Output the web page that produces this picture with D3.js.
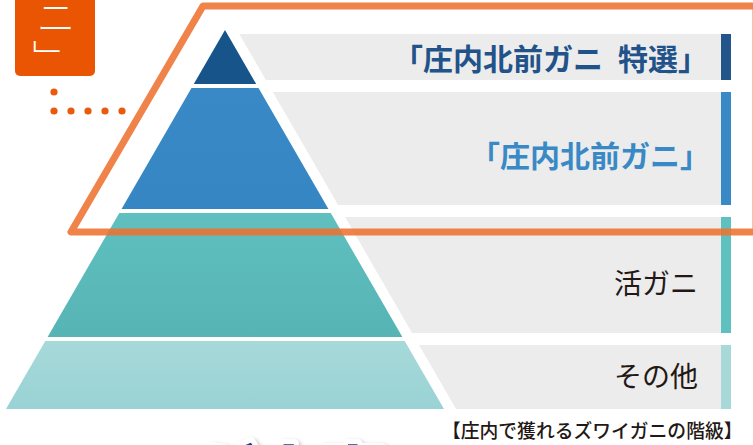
<!DOCTYPE html>
<html><head><meta charset="utf-8">
<script src="https://cdn.jsdelivr.net/npm/d3@7/dist/d3.min.js"></script>
<style>
html,body{margin:0;padding:0;background:#fff;}
svg{display:block;font-family:"Noto Sans CJK JP","Noto Sans",sans-serif;}
</style></head>
<body>
<svg id="chart" width="753" height="445"></svg>
<script>
// ---- data ----
const tierNames = ["「庄内北前ガニ\u2002特選」", "「庄内北前ガニ」", "活ガニ", "その他"];
const tierHeights = [54, 121, 124, 68];           // relative tier thickness
const tierColors = ["#17548a", "#3889c5", "#5fc0bf", "#a7d9d9"];
const tierColorsBottom = ["#17548a", "#3586c3", "#57b4b4", "#99d2d5"];
const barColors = ["#22568a", "#3889c6", "#5fc1bf", "#a8d9d8"];
const labelColors = ["#22528a", "#3889c6", "#231815", "#231815"];
const labelWeights = [700, 700, 400, 400];
const caption = "【庄内で獲れるズワイガニの階級】";
const tagChars = ["ニ", "﹂"];
const headline = "ここが大事";

// ---- layout ----
const W = 753, H = 445;
const apexX = 225, apexY = 30, baseY = 409, baseHalf = 219, gap = 4;
const bandOffset = 12, bandRight = 721, barW = 10;
const labelRight = [708, 710, 698, 698];
const labelSize = [30, 30, 28, 28];
const labelNudge = [0, 5, 7, -2];

const svg = d3.select("#chart");
const defs = svg.append("defs");

const total = d3.sum(tierHeights);
const yScale = d3.scaleLinear().domain([0, total]).range([apexY, baseY - gap * (tierHeights.length - 1)]);
const halfW = d3.scaleLinear().domain([apexY, baseY]).range([0, baseHalf]);

let cum = 0;
const tiers = tierHeights.map((h, i) => {
  const top = yScale(cum) + i * gap;
  cum += h;
  const bottom = yScale(cum) + i * gap;
  return {i, name: tierNames[i], top, bottom};
});

// gradients
tiers.forEach(t => {
  const g = defs.append("linearGradient").attr("id", "g" + t.i)
    .attr("x1", 0).attr("y1", 0).attr("x2", 0).attr("y2", 1);
  g.append("stop").attr("offset", "0%").attr("stop-color", tierColors[t.i]);
  g.append("stop").attr("offset", "100%").attr("stop-color", tierColorsBottom[t.i]);
});

// gray bands
const bands = tiers.map((t, i) => ({
  i,
  top: t.top + gap,
  bottom: i === tiers.length - 1 ? t.bottom : t.bottom - gap
}));
svg.append("g").selectAll("path").data(bands).join("path")
  .attr("d", b => {
    const xl1 = apexX + halfW(b.top) + bandOffset;
    const xl2 = apexX + halfW(b.bottom) + bandOffset;
    return `M${xl1},${b.top}L${bandRight},${b.top}L${bandRight},${b.bottom}L${xl2},${b.bottom}Z`;
  })
  .attr("fill", "#ebeceb");

// right colored bars
svg.append("g").selectAll("rect").data(bands).join("rect")
  .attr("x", bandRight).attr("y", b => b.top)
  .attr("width", barW).attr("height", b => b.bottom - b.top)
  .attr("fill", b => barColors[b.i]);

// pyramid tiers
svg.append("g").selectAll("path").data(tiers).join("path")
  .attr("d", t => {
    const a = halfW(t.top), b = halfW(t.bottom);
    return `M${apexX - a},${t.top}L${apexX + a},${t.top}L${apexX + b},${t.bottom}L${apexX - b},${t.bottom}Z`;
  })
  .attr("fill", t => `url(#g${t.i})`);

// labels
svg.append("g").selectAll("text").data(tiers).join("text")
  .attr("x", (t, i) => labelRight[i])
  .attr("y", (t, i) => (bands[i].top + bands[i].bottom) / 2 + labelNudge[i])
  .attr("text-anchor", "end")
  .attr("dominant-baseline", "central")
  .attr("font-size", (t, i) => labelSize[i])
  .attr("font-weight", (t, i) => labelWeights[i])
  .attr("fill", (t, i) => labelColors[i])
  .text(t => t.name);

// cut-off headline at bottom
const sh = defs.append("filter").attr("id", "sh").attr("x", "-10%").attr("y", "-50%").attr("width", "120%").attr("height", "200%");
sh.append("feDropShadow").attr("dx", 2).attr("dy", 2).attr("stdDeviation", 2).attr("flood-color", "#000").attr("flood-opacity", 0.3);
svg.append("text").attr("x", 65).attr("y", 499)
  .attr("font-size", 64).attr("font-weight", 900).attr("fill", "#0a3f93")
  .attr("stroke", "#fff").attr("stroke-width", 10).attr("paint-order", "stroke")
  .attr("stroke-linejoin", "round").attr("filter", "url(#sh)")
  .text(headline);

// caption
svg.append("text").attr("x", 742.5).attr("y", 429)
  .attr("text-anchor", "end").attr("dominant-baseline", "central")
  .attr("font-size", 18.8).attr("font-weight", 500).attr("fill", "#231815")
  .text(caption);

// orange highlight frame
svg.append("path")
  .attr("d", `M756,6L203,6L71,232L756,232Z`)
  .attr("fill", "none").attr("stroke", "#ee7230").attr("stroke-width", 7)
  .attr("stroke-linejoin", "round").attr("opacity", 0.88);

// tag box
svg.append("rect").attr("x", 15).attr("y", -10).attr("width", 80).attr("height", 86)
  .attr("rx", 5).attr("fill", "#ea5504");
svg.append("g").selectAll("text").data(tagChars).join("text")
  .attr("x", (d, i) => i === 0 ? 56 : 51)
  .attr("y", (d, i) => i === 0 ? 14 : 56)
  .attr("text-anchor", "middle").attr("dominant-baseline", "central")
  .attr("font-size", (d, i) => i === 0 ? 38 : 36).attr("font-weight", 300).attr("fill", "#fff")
  .text(d => d);

// dotted connector
const dots = [[54, 92], [54, 111], [71, 111], [88, 111], [105, 111], [122, 111]];
svg.append("g").selectAll("circle").data(dots).join("circle")
  .attr("cx", d => d[0]).attr("cy", d => d[1]).attr("r", 3.6).attr("fill", "#e95a0c");
</script>
</body></html>
